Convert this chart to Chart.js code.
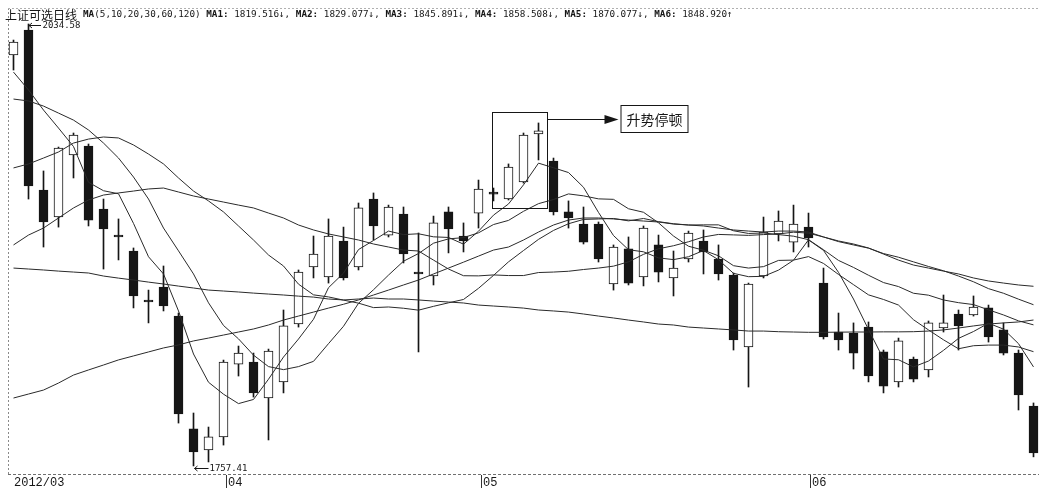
<!DOCTYPE html>
<html><head><meta charset="utf-8">
<script src="https://cdn.jsdelivr.net/npm/chart.js@4"></script>
<style>html,body{margin:0;padding:0;background:#fff;overflow:hidden}#wrap{width:1039px;height:489px;position:relative}</style>
</head><body><div id="wrap"><canvas id="c" width="1039" height="489"></canvas></div>
<script>
// ---- data ----
const indexName = '上证可选日线';
const dates = ['2012-03-13','2012-03-14','2012-03-15','2012-03-16','2012-03-19','2012-03-20','2012-03-21','2012-03-22','2012-03-23','2012-03-26','2012-03-27','2012-03-28','2012-03-29','2012-03-30',
'2012-04-05','2012-04-06','2012-04-09','2012-04-10','2012-04-11','2012-04-12','2012-04-13','2012-04-16','2012-04-17','2012-04-18','2012-04-19','2012-04-20','2012-04-23','2012-04-24','2012-04-25','2012-04-26','2012-04-27',
'2012-05-02','2012-05-03','2012-05-04','2012-05-07','2012-05-08','2012-05-09','2012-05-10','2012-05-11','2012-05-14','2012-05-15','2012-05-16','2012-05-17','2012-05-18','2012-05-21','2012-05-22','2012-05-23','2012-05-24','2012-05-25','2012-05-28','2012-05-29','2012-05-30','2012-05-31',
'2012-06-01','2012-06-04','2012-06-05','2012-06-06','2012-06-07','2012-06-08','2012-06-11','2012-06-12','2012-06-13','2012-06-14','2012-06-15','2012-06-18','2012-06-19','2012-06-20','2012-06-21','2012-06-25'];

const open = [2015.1,2030.8,1930.4,1913.5,1952.4,1958.0,1918.5,1902.2,1892.2,1860.9,1869.6,1851.4,1780.6,1767.4,1775.6,1821.3,1822.6,1800.0,1810.1,1846.4,1882.2,1875.9,1898.5,1882.2,1924.8,1902.2,1915.4,1878.4,1876.5,1916.7,1901.6,1916.0,1928.6,1924.8,1935.5,1965.6,1948.6,1916.7,1909.1,1909.1,1871.5,1893.5,1875.9,1896.0,1875.3,1887.2,1898.5,1887.2,1877.1,1832.0,1876.5,1902.9,1897.8,1907.2,1872.1,1841.4,1840.8,1844.5,1828.9,1810.1,1824.5,1817.6,1843.9,1852.7,1852.1,1856.5,1842.7,1828.2,1795.0];
const high = [2024.5,2034.58,1942.4,1957.4,1966.2,1959.3,1924.8,1912.3,1894.1,1867.7,1882.8,1853.3,1790.6,1781.8,1823.8,1832.6,1828.2,1830.7,1855.2,1880.3,1901.6,1912.3,1907.2,1922.3,1928.6,1921.0,1919.8,1903.5,1914.1,1919.8,1909.8,1936.7,1931.7,1946.8,1966.2,1972.5,1950.5,1923.6,1919.8,1910.4,1896.0,1901.0,1907.9,1902.2,1892.2,1904.7,1905.4,1896.0,1878.4,1872.1,1913.5,1917.3,1921.0,1916.0,1881.5,1853.3,1847.1,1847.7,1830.1,1837.6,1825.7,1848.3,1864.6,1855.2,1864.0,1858.3,1847.1,1830.1,1796.9];
const low = [2005.7,1924.8,1894.7,1907.2,1938.0,1907.9,1880.9,1886.6,1856.5,1847.1,1854.6,1784.3,1757.41,1759.9,1770.5,1813.8,1800.6,1773.7,1803.2,1844.5,1875.3,1872.1,1874.0,1880.3,1899.1,1901.0,1884.7,1828.9,1870.9,1891.0,1891.6,1906.6,1923.6,1924.2,1934.8,1949.3,1914.8,1906.6,1896.6,1885.3,1867.7,1870.9,1870.3,1872.8,1864.0,1885.3,1877.8,1874.0,1830.1,1806.9,1875.3,1898.5,1891.6,1894.7,1837.0,1830.1,1818.2,1810.1,1803.2,1806.9,1810.1,1813.2,1841.4,1830.1,1851.4,1835.1,1827.0,1792.5,1763.1];
const close = [2023.3,1933.0,1910.4,1956.8,1964.9,1911.6,1906.0,1901.0,1864.0,1860.2,1857.7,1790.0,1766.2,1775.6,1822.6,1828.2,1803.2,1829.5,1845.2,1879.0,1890.3,1901.6,1875.3,1919.2,1907.9,1919.8,1890.3,1877.8,1909.8,1906.0,1898.5,1931.1,1927.9,1944.9,1964.9,1967.5,1916.7,1912.9,1897.8,1887.2,1894.7,1872.1,1906.6,1879.0,1881.5,1903.5,1891.6,1877.8,1836.4,1871.5,1904.1,1911.0,1909.1,1900.4,1838.3,1836.5,1828.2,1813.8,1807.5,1835.8,1811.9,1847.1,1847.1,1845.2,1857.1,1838.3,1828.2,1801.9,1765.6];

const ma5 = [2004.4,1993.2,1980.6,1969.3,1957.7,1935.3,1930.0,1928.1,1909.5,1888.6,1877.8,1854.6,1827.6,1809.9,1802.4,1796.5,1799.1,1811.8,1825.7,1837.0,1849.4,1869.2,1878.3,1893.1,1898.8,1904.7,1902.5,1903.0,1901.1,1900.7,1896.5,1904.6,1914.7,1921.7,1933.7,1947.3,1944.4,1941.4,1932.2,1916.4,1901.9,1893.0,1891.7,1887.9,1886.8,1888.6,1892.5,1886.7,1878.2,1876.1,1876.3,1880.2,1886.4,1899.2,1892.6,1878.8,1862.1,1843.0,1824.5,1824.0,1819.5,1823.2,1829.9,1837.4,1841.7,1846.9,1843.2,1834.1,1819.516];
const ma10 = [1987.5,1986.3,1983.1,1978.7,1974.3,1968.1,1959.9,1950.5,1938.6,1924.8,1906.6,1892.3,1877.8,1859.7,1845.5,1837.1,1826.9,1819.7,1817.8,1819.7,1823.0,1834.1,1845.0,1859.4,1867.9,1877.1,1885.8,1890.6,1897.1,1899.8,1900.6,1903.6,1908.8,1911.4,1917.1,1921.9,1924.5,1928.0,1926.8,1924.9,1924.6,1918.7,1916.5,1909.9,1901.6,1895.2,1892.7,1889.2,1883.0,1881.5,1882.4,1886.3,1886.5,1888.7,1884.4,1877.5,1871.1,1864.7,1861.8,1858.3,1849.1,1842.7,1836.5,1830.9,1832.8,1833.2,1833.2,1832.0,1829.077];
const ma20 = [1944.3,1946.8,1950.5,1954.3,1959.9,1962.4,1963.7,1963.1,1958.7,1953.0,1946.8,1938.0,1929.8,1923.6,1916.7,1907.9,1899.1,1889.7,1882.8,1871.4,1864.7,1863.4,1861.4,1859.5,1856.7,1857.1,1856.3,1855.1,1857.5,1859.7,1861.8,1868.8,1876.9,1885.4,1892.5,1899.5,1905.1,1909.3,1912.0,1912.3,1912.6,1911.1,1912.6,1910.6,1909.3,1908.5,1908.6,1908.6,1904.9,1903.2,1903.5,1902.5,1901.5,1899.3,1893.0,1886.3,1881.9,1877.0,1872.4,1869.9,1865.7,1864.5,1861.5,1859.8,1858.6,1855.3,1852.1,1848.4,1845.891];
const ma30 = [1896.0,1902.2,1906.6,1912.9,1919.2,1924.2,1927.3,1928.6,1929.8,1931.1,1931.7,1929.2,1926.7,1924.8,1922.9,1921.0,1919.2,1916.0,1912.9,1908.5,1905.4,1902.9,1901.0,1899.1,1896.6,1894.7,1892.8,1892.2,1886.5,1880.9,1876.7,1876.6,1877.2,1876.8,1876.8,1878.7,1879.0,1879.5,1880.6,1881.5,1882.7,1885.4,1890.1,1893.6,1895.5,1898.0,1901.0,1902.6,1902.3,1902.0,1902.5,1902.9,1904.0,1903.4,1901.0,1898.1,1896.0,1894.0,1890.6,1888.3,1885.4,1882.5,1879.8,1876.5,1872.9,1868.6,1865.7,1862.0,1858.508];
const ma60 = [1800.0,1802.5,1805.0,1809.4,1814.4,1817.6,1820.7,1823.9,1826.4,1828.9,1831.4,1833.3,1835.8,1837.6,1839.5,1841.4,1843.3,1845.8,1848.9,1851.4,1853.9,1856.4,1858.8,1861.5,1864.6,1867.7,1870.9,1874.0,1877.8,1881.5,1885.2,1889.0,1892.8,1894.7,1899.1,1904.1,1908.5,1911.6,1912.9,1912.9,1912.3,1911.6,1911.0,1910.4,1909.1,1908.5,1907.9,1906.6,1905.4,1904.7,1904.1,1904.7,1904.7,1904.1,1901.0,1898.5,1896.6,1894.1,1890.3,1886.5,1883.4,1881.5,1879.6,1877.8,1875.3,1873.4,1872.1,1870.9,1870.077];
const ma120 = [1881.5,1880.9,1880.3,1879.6,1879.0,1878.4,1876.5,1875.2,1874.0,1872.7,1871.5,1870.2,1869.0,1867.7,1867.1,1866.5,1865.8,1865.2,1864.6,1863.9,1863.3,1862.1,1861.5,1862.1,1862.7,1862.1,1862.1,1861.5,1860.8,1860.2,1859.6,1858.3,1857.7,1857.1,1856.4,1855.2,1854.6,1853.9,1852.7,1851.4,1850.2,1848.9,1847.7,1846.4,1845.8,1844.5,1843.9,1843.3,1842.7,1842.0,1842.0,1841.6,1841.4,1841.2,1841.2,1841.3,1841.4,1841.4,1841.5,1841.5,1841.6,1842.0,1842.7,1843.9,1845.2,1846.4,1847.1,1847.7,1848.920];

const maPeriods = [5,10,20,30,60,120];
const tickLabels = ['2012/03','04','05','06'];
const tickIndex = [0,14,31,53];
const noteText = '升势停顿';
const noteFrom = 31.9, noteTo = 35.57, noteLow = 1919.2, noteHigh = 1979.4;

// ---- build ----
const INK = '#161616';
const isUp = close.map((c,i)=>c>open[i]);
const bodyData = open.map((o,i)=>({x:i,y:[o,close[i]]}));
const wickData = low.map((l,i)=>({x:i,y:[l,high[i]]}));
const maSeries = [ma5,ma10,ma20,ma30,ma60,ma120];
const lineSets = maSeries.map((arr,k)=>({
  type:'line', label:'MA'+maPeriods[k], data:arr.map((v,i)=>({x:i,y:v})),
  borderColor:'#2a2a2a', borderWidth:1, pointRadius:0, tension:0, order:1, fill:false
}));

const frame = {
  id:'frame',
  beforeDatasetsDraw(chart){
    const {ctx, chartArea:a, scales:{x}} = chart;
    ctx.save();
    ctx.lineWidth=1;
    ctx.setLineDash([2,2]);
    ctx.strokeStyle='#8a8a8a';
    ctx.beginPath(); ctx.moveTo(a.left+0.5,a.top); ctx.lineTo(a.left+0.5,a.bottom); ctx.stroke();
    ctx.strokeStyle='#b0b0b0';
    ctx.beginPath(); ctx.moveTo(a.left,a.top+0.5); ctx.lineTo(a.right,a.top+0.5); ctx.stroke();
    ctx.setLineDash([3,2]); ctx.strokeStyle='#707070';
    ctx.beginPath(); ctx.moveTo(a.left,a.bottom+0.5); ctx.lineTo(a.right,a.bottom+0.5); ctx.stroke();
    ctx.setLineDash([]);
    // month ticks + labels
    ctx.fillStyle=INK; ctx.strokeStyle='#333'; ctx.textBaseline='middle';
    ctx.font='12px "Liberation Mono", monospace';
    tickIndex.forEach((idx,k)=>{
      const px=Math.round(x.getPixelForValue(idx));
      if(k>0){
        ctx.beginPath(); ctx.moveTo(px+2.5,a.bottom+1); ctx.lineTo(px+2.5,a.bottom+14); ctx.stroke();
        ctx.fillText(tickLabels[k],px+4,a.bottom+9);
      } else {
        ctx.fillText(tickLabels[k],px,a.bottom+9);
      }
    });
    ctx.restore();
  }
};

function arrowLeft(ctx,x0,y0,len){
  ctx.beginPath(); ctx.moveTo(x0,y0); ctx.lineTo(x0+len,y0);
  ctx.moveTo(x0,y0); ctx.lineTo(x0+3,y0-2.5); ctx.moveTo(x0,y0); ctx.lineTo(x0+3,y0+2.5); ctx.stroke();
}

const annot = {
  id:'annot',
  afterDatasetsDraw(chart){
    const {ctx, scales:{x,y}} = chart;
    ctx.save();
    ctx.fillStyle=INK; ctx.strokeStyle=INK; ctx.lineWidth=1; ctx.textBaseline='middle';
    // header
    ctx.font='12px "Noto Sans CJK SC"'; ctx.fillText(indexName,5,15);
    const tokens=[['MA',1],['('+maPeriods.join(',')+') ',0]];
    maSeries.forEach((arr,k)=>{
      const n=arr.length, v=arr[n-1], up=v>=arr[n-2];
      tokens.push(['MA'+(k+1)+':',1]);
      tokens.push([' '+v.toFixed(3)+(up?'↑':'↓')+(k<5?', ':''),0]);
    });
    const cw=5.6; let ci=0;
    tokens.forEach(([t,b])=>{
      ctx.font=(b?'bold ':'')+'9.3px "DejaVu Sans Mono"';
      for(const ch of t){ if(ch!==' ') ctx.fillText(ch,83+ci*cw,15); ci++; }
    });
    // max / min markers
    let hi=0, lo=0;
    high.forEach((v,i)=>{ if(v>high[hi]) hi=i; });
    low.forEach((v,i)=>{ if(v<low[lo]) lo=i; });
    ctx.font='9px "DejaVu Sans Mono"';
    let px=x.getPixelForValue(hi), py=y.getPixelForValue(high[hi]);
    arrowLeft(ctx,px+0.5,Math.round(py)+1.5,12); ctx.fillText(high[hi].toFixed(2),px+14,py+2);
    px=x.getPixelForValue(lo); py=y.getPixelForValue(low[lo]);
    arrowLeft(ctx,px+1,Math.round(py)+2.5,14); ctx.fillText(low[lo].toFixed(2),px+16,py+3);
    // note box
    const bx1=Math.round(x.getPixelForValue(noteFrom))+0.5, bx2=Math.round(x.getPixelForValue(noteTo))+0.5;
    const by1=Math.round(y.getPixelForValue(noteHigh))+0.5, by2=Math.round(y.getPixelForValue(noteLow))+0.5;
    ctx.strokeRect(bx1,by1,bx2-bx1,by2-by1);
    const ay=by1+7, tipX=bx2+71;
    ctx.beginPath(); ctx.moveTo(bx2,ay); ctx.lineTo(tipX-12,ay); ctx.stroke();
    ctx.beginPath(); ctx.moveTo(tipX,ay); ctx.lineTo(tipX-14,ay-4.5); ctx.lineTo(tipX-14,ay+4.5); ctx.closePath(); ctx.fill();
    const lx=tipX+2.5, ly=ay-14, lw=67, lh=27;
    ctx.strokeRect(lx,ly,lw,lh);
    ctx.font='14px "Noto Sans CJK SC"'; ctx.textAlign='center';
    ctx.fillText(noteText,lx+lw/2,ly+lh/2+0.5);
    ctx.restore();
  }
};

new Chart(document.getElementById('c'),{
  type:'bar',
  data:{ datasets:[
    ...lineSets,
    {type:'bar',label:'body',data:bodyData,order:2,grouped:false,barThickness:9,minBarLength:2,
      backgroundColor:ctx=>isUp[ctx.dataIndex]?'#ffffff':INK,borderColor:INK,borderWidth:1,borderSkipped:false},
    {type:'bar',label:'wick',data:wickData,order:3,grouped:false,barThickness:1,backgroundColor:INK,borderWidth:0}
  ]},
  options:{
    responsive:false, animation:false, devicePixelRatio:1, events:[],
    layout:{padding:{left:8,top:8,right:0,bottom:15}},
    plugins:{legend:{display:false},tooltip:{enabled:false}},
    scales:{
      x:{type:'linear',display:false,min:-0.3667,max:68.3667,offset:false},
      y:{type:'linear',display:false,min:1752.35,max:2044.6}
    }
  },
  plugins:[frame,annot]
});
</script></body></html>
